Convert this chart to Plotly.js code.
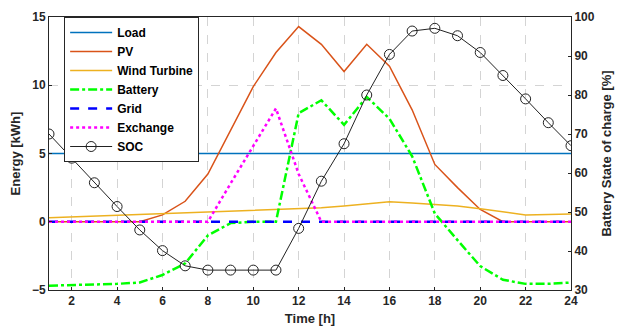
<!DOCTYPE html>
<html>
<head>
<meta charset="utf-8">
<script src="https://cdn.plot.ly/plotly-3.0.1.min.js"></script>
<style>html,body{margin:0;padding:0;background:#fff;}#chart{width:618px;height:335px;}</style>
</head>
<body>
<div id="chart"></div>
<script>
const hours = [1,2,3,4,5,6,7,8,9,10,11,12,13,14,15,16,17,18,19,20,21,22,23,24];
const load = [5,5,5,5,5,5,5,5,5,5,5,5,5,5,5,5,5,5,5,5,5,5,5,5];
const pv = [0,0,0,0,0,0.5,1.5,3.5,6.7,9.9,12.4,14.3,13.0,11.0,13.0,11.4,8.2,4.2,2.5,0.9,0,0,0,0];
const wind = [0.3,0.36,0.42,0.48,0.54,0.6,0.66,0.72,0.78,0.84,0.88,0.92,1.02,1.15,1.3,1.47,1.38,1.28,1.15,0.95,0.72,0.5,0.53,0.57];
const battery = [-4.68,-4.65,-4.6,-4.55,-4.45,-3.9,-3.05,-1.0,-0.1,0,0,7.95,8.9,7.1,9.15,7.55,4.8,0.6,-1.35,-3.25,-4.25,-4.55,-4.55,-4.45];
const grid = [0,0,0,0,0,0,0,0,0,0,0,0,0,0,0,0,0,0,0,0,0,0,0,0];
const exchange = [0,0,0,0,0,0,0,0,2.8,5.6,8.3,3.5,0,0,0,0,0,0,0,0,0,0,0,0];
const soc = [70.0,63.8,57.5,51.4,45.4,40.1,36.2,35.1,35.1,35.1,35.1,45.8,57.9,67.5,80.0,90.4,96.4,97.1,95.2,90.9,85.0,79.0,72.9,67.0];
const xTicks = [2,4,6,8,10,12,14,16,18,20,22,24];
const yTicks = [-5,0,5,10,15];
const y2Ticks = [30,40,50,60,70,80,90,100];

const font = {family: 'Liberation Sans, Arial, sans-serif', size: 12, color: '#262626', weight: 'bold'};

const traces = [
  {x: hours, y: load, name: 'Load', mode: 'lines', line: {color: '#0072BD', width: 1.5}},
  {x: hours, y: pv, name: 'PV', mode: 'lines', line: {color: '#D95319', width: 1.5}},
  {x: hours, y: wind, name: 'Wind Turbine', mode: 'lines', line: {color: '#EDB120', width: 1.5}},
  {x: hours, y: battery, name: 'Battery', mode: 'lines', line: {color: '#00FF00', width: 2.5, dash: 'dashdot'}},
  {x: hours, y: grid, name: 'Grid', mode: 'lines', line: {color: '#0000FF', width: 2.5, dash: 'dash'}},
  {x: hours, y: exchange, name: 'Exchange', mode: 'lines', line: {color: '#FF00FF', width: 2.5, dash: 'dot'}},
  {x: hours, y: soc, name: 'SOC', yaxis: 'y2', mode: 'lines+markers', line: {color: '#222222', width: 1},
   marker: {symbol: 'circle-open', size: 10, color: '#222222', line: {width: 1}}}
];

const layout = {
  width: 618, height: 335,
  margin: {l: 49, r: 47, t: 17, b: 45},
  paper_bgcolor: '#ffffff', plot_bgcolor: '#ffffff',
  font: font,
  showlegend: true,
  legend: {x: 0.029, y: 1, xanchor: 'left', yanchor: 'top', bgcolor: '#ffffff', bordercolor: '#262626', borderwidth: 1,
           font: {family: 'Liberation Sans, Arial, sans-serif', size: 12, color: '#000', weight: 'bold'}, itemwidth: 42, tracegroupgap: 0},
  xaxis: {range: [1, 24], tickvals: xTicks, ticktext: xTicks.map(String), showgrid: true, gridcolor: '#d4d4d4', griddash: 'dash', gridwidth: 1,
          zeroline: false, showline: true, linecolor: '#262626', linewidth: 1, mirror: true, ticks: 'inside', ticklen: 3, tickcolor: '#262626',
          title: {text: 'Time [h]', font: {size: 13, weight: 'bold', color: '#262626'}, standoff: 6}},
  yaxis: {range: [-5, 15], tickvals: yTicks, showgrid: true, gridcolor: '#d4d4d4', griddash: 'dash', gridwidth: 1, zeroline: false,
          showline: true, linecolor: '#262626', linewidth: 1, ticks: 'inside', ticklen: 3, tickcolor: '#262626',
          title: {text: 'Energy [kWh]', font: {size: 13, weight: 'bold', color: '#262626'}, standoff: 8}},
  yaxis2: {range: [30, 100], tickvals: y2Ticks, overlaying: 'y', side: 'right', showgrid: false, zeroline: false,
           showline: true, linecolor: '#262626', linewidth: 1, ticks: 'inside', ticklen: 3, tickcolor: '#262626',
           title: {text: 'Battery State of charge [%]', font: {size: 13, weight: 'bold', color: '#262626'}, standoff: 8}}
};

Plotly.newPlot('chart', traces, layout, {displayModeBar: false, staticPlot: true});
</script>
</body>
</html>
